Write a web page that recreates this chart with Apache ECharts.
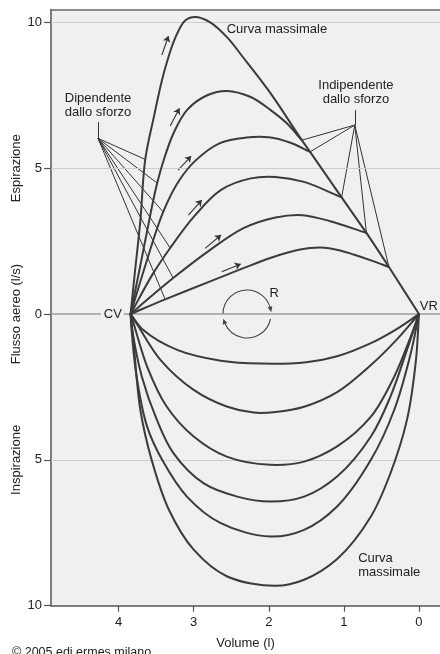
<!DOCTYPE html>
<html>
<head>
<meta charset="utf-8">
<script src="https://cdn.jsdelivr.net/npm/echarts@6/dist/echarts.min.js"></script>
<style>
  html, body { margin: 0; padding: 0; background: #fff; }
  #chart { width: 440px; height: 654px; }
</style>
</head>
<body>
<div id="chart"></div>
<script>
// Flow-volume loops: volume (l) on a reversed x axis, airflow (l/s) on y,
// expiration above zero, inspiration below.
const volumeTicks = [0, 1, 2, 3, 4];
const flowTicks = [-10, -5, 0, 5, 10];

// Expiratory curves [volume, flow], from CV towards VR.
const expMaximal = [[3.84,0],[3.78,1.5],[3.71,3.2],[3.645,5.3],[3.53,6.76],[3.40,8.24],[3.24,9.5],[3.11,10.07],[2.98,10.18],[2.78,10.0],[2.56,9.5],[2.33,8.76],[1.98,7.58],[1.56,5.96],[1.45,5.56],[1.03,4.0],[0.70,2.78],[0.40,1.61],[0,0]];
const expEffort5 = [[3.84,0],[3.70,1.8],[3.57,3.5],[3.486,4.49],[3.40,5.27],[3.27,6.19],[3.09,6.99],[2.82,7.50],[2.56,7.65],[2.24,7.44],[1.98,7.0],[1.76,6.54],[1.56,5.96]];
const expEffort4 = [[3.84,0],[3.64,1.7],[3.406,3.5],[3.2,4.55],[2.98,5.25],[2.65,5.86],[2.3,6.05],[2.0,6.06],[1.72,5.88],[1.45,5.56]];
const expEffort3 = [[3.84,0],[3.55,1.35],[3.313,2.263],[3.0,3.33],[2.64,4.25],[2.24,4.65],[1.91,4.70],[1.53,4.53],[1.03,4.0]];
const expEffort2 = [[3.84,0],[3.55,0.64],[3.273,1.234],[2.78,2.2],[2.33,2.95],[1.91,3.31],[1.55,3.39],[1.18,3.18],[0.70,2.78]];
const expEffort1 = [[3.84,0],[3.38,0.5],[2.78,1.12],[2.33,1.58],[1.98,1.92],[1.6,2.2],[1.31,2.28],[1.05,2.18],[0.87,2.04],[0.62,1.82],[0.40,1.61]];

// Inspiratory curves [volume, flow], from CV towards VR.
const inspEffort1 = [[3.84,0],[3.67,-0.55],[3.22,-1.23],[2.64,-1.6],[2.1,-1.7],[1.5,-1.65],[1.09,-1.45],[0.64,-1.0],[0.33,-0.57],[0.11,-0.2],[0,0]];
const inspEffort2 = [[3.84,0],[3.76,-0.32],[3.44,-1.58],[3.0,-2.60],[2.56,-3.17],[2.2,-3.38],[1.91,-3.36],[1.53,-3.18],[1.09,-2.68],[0.64,-1.75],[0.29,-0.86],[0,0]];
const inspEffort3 = [[3.84,0],[3.80,-0.32],[3.62,-1.80],[3.36,-3.17],[3.0,-4.20],[2.56,-4.89],[1.98,-5.17],[1.53,-5.06],[1.09,-4.54],[0.64,-3.52],[0.33,-2.15],[0.11,-0.78],[0,0]];
const inspEffort4 = [[3.84,0],[3.82,-0.5],[3.69,-2.15],[3.49,-3.63],[3.27,-4.77],[2.87,-5.80],[2.42,-6.26],[1.98,-6.43],[1.53,-6.26],[1.09,-5.57],[0.64,-4.2],[0.38,-2.83],[0.16,-1.23],[0,0]];
const inspEffort5 = [[3.84,0],[3.83,-0.45],[3.76,-2.15],[3.62,-3.86],[3.42,-5.0],[3.09,-6.26],[2.64,-7.17],[1.98,-7.63],[1.53,-7.40],[1.09,-6.6],[0.64,-5.0],[0.33,-3.29],[0.11,-1.35],[0,0]];
const inspMaximal = [[3.84,0],[3.80,-1.0],[3.71,-3.29],[3.56,-5.0],[3.33,-6.71],[3.0,-8.08],[2.56,-8.99],[1.91,-9.32],[1.53,-9.11],[1.09,-8.4],[0.64,-6.94],[0.38,-5.46],[0.16,-3.63],[0.04,-1.57],[0,0]];

// Direction arrows beside the rising limbs of the expiratory curves.
const flowArrows = [
  [[3.423,8.88],[3.336,9.53]],
  [[3.313,6.445],[3.189,7.052]],
  [[3.207,4.937],[3.034,5.417]],
  [[3.070,3.394],[2.892,3.908]],
  [[2.848,2.252],[2.635,2.708]],
  [[2.626,1.450],[2.373,1.714]]
];

// Leader lines: effort-dependent region (rising limbs) and effort-independent region (merge points).
const dependentHub = [4.274, 6.023];
const dependentStub = [4.274, 6.58];
const dependentTargets = [[3.645,5.3],[3.486,4.49],[3.406,3.5],[3.313,2.263],[3.273,1.234],[3.38,0.5]];
const independentHub = [0.855, 6.479];
const independentStub = [0.855, 6.99];
const independentTargets = [[1.56,5.96],[1.45,5.56],[1.03,4.0],[0.70,2.78],[0.40,1.61]];

const curves = [
  expMaximal, expEffort5, expEffort4, expEffort3, expEffort2, expEffort1,
  inspEffort1, inspEffort2, inspEffort3, inspEffort4, inspEffort5, inspMaximal
];

const FONT = "'Liberation Sans', Arial, Helvetica, sans-serif";
const INK = '#3b3b3b';
const TEXT = '#222';

const chart = echarts.init(document.getElementById('chart'), null, { renderer: 'canvas' });

// Centripetal Catmull-Rom through pixel points, emitted as cubic Bezier path data.
function splinePath(pts) {
  const n = pts.length;
  const get = i => {
    if (i < 0) return [2 * pts[0][0] - pts[1][0], 2 * pts[0][1] - pts[1][1]];
    if (i >= n) return [2 * pts[n - 1][0] - pts[n - 2][0], 2 * pts[n - 1][1] - pts[n - 2][1]];
    return pts[i];
  };
  const dist = (a, b) => Math.sqrt(Math.hypot(b[0] - a[0], b[1] - a[1]));
  let d = 'M' + pts[0][0].toFixed(2) + ' ' + pts[0][1].toFixed(2);
  for (let i = 0; i < n - 1; i++) {
    const p0 = get(i - 1), p1 = get(i), p2 = get(i + 1), p3 = get(i + 2);
    const d1 = dist(p0, p1), d2 = dist(p1, p2), d3 = dist(p2, p3);
    let b1 = p1, b2 = p2;
    if (d1 > 1e-6 && d2 > 1e-6) {
      const k = 3 * d1 * (d1 + d2);
      b1 = [0, 1].map(j => (d1 * d1 * p2[j] - d2 * d2 * p0[j] + (2 * d1 * d1 + 3 * d1 * d2 + d2 * d2) * p1[j]) / k);
    }
    if (d3 > 1e-6 && d2 > 1e-6) {
      const k = 3 * d3 * (d3 + d2);
      b2 = [0, 1].map(j => (d3 * d3 * p1[j] - d2 * d2 * p3[j] + (2 * d3 * d3 + 3 * d3 * d2 + d2 * d2) * p2[j]) / k);
    }
    d += 'C' + b1[0].toFixed(2) + ' ' + b1[1].toFixed(2) + ' ' + b2[0].toFixed(2) + ' ' + b2[1].toFixed(2) +
         ' ' + p2[0].toFixed(2) + ' ' + p2[1].toFixed(2);
  }
  return d;
}

function leaderLines(hub, stub, targets) {
  const segs = [{ coords: [stub, hub] }];
  targets.forEach(t => segs.push({ coords: [hub, t] }));
  return segs;
}

chart.setOption({
  animation: false,
  backgroundColor: '#fff',
  grid: {
    left: 51, right: 0, top: 9.5, bottom: 48.3,
    containLabel: false, outerBoundsMode: 'none',
    show: true, backgroundColor: '#f0f0f0', borderWidth: 0
  },
  xAxis: [{
    type: 'value', inverse: true, min: -0.28, max: 4.9,
    axisLine: { show: true, onZero: false, lineStyle: { color: '#555', width: 1.5 } },
    axisTick: { show: true, customValues: volumeTicks, length: 6, lineStyle: { color: '#555', width: 1.2 } },
    axisLabel: { customValues: volumeTicks, margin: 10, color: TEXT, fontSize: 13, fontFamily: FONT },
    splitLine: { show: false },
    name: 'Volume (l)', nameLocation: 'middle', nameGap: 31,
    nameTextStyle: { color: TEXT, fontSize: 13, fontFamily: FONT }
  }, {
    type: 'value', inverse: true, min: -0.28, max: 4.9, position: 'top',
    axisLine: { show: true, onZero: false, lineStyle: { color: '#6a6a6a', width: 1.5 } },
    axisTick: { show: false }, axisLabel: { show: false }, splitLine: { show: false }
  }],
  yAxis: {
    type: 'value', min: -10, max: 10.44,
    axisLine: { show: true, onZero: false, lineStyle: { color: '#555', width: 1.5 } },
    axisTick: { show: true, customValues: flowTicks, length: 7, lineStyle: { color: '#555', width: 1.2 } },
    axisLabel: {
      customValues: flowTicks, margin: 9, color: TEXT, fontSize: 13, fontFamily: FONT,
      formatter: v => String(Math.abs(v))
    },
    splitLine: { show: false }
  },
  series: [
    {
      type: 'line', data: [], z: 1, silent: true,
      markLine: {
        symbol: 'none', silent: true, label: { show: false },
        data: [
          { yAxis: 10, lineStyle: { color: '#cdcdcd', width: 1, type: 'solid' } },
          { yAxis: 5, lineStyle: { color: '#cdcdcd', width: 1, type: 'solid' } },
          { yAxis: -5, lineStyle: { color: '#cdcdcd', width: 1, type: 'solid' } },
          { yAxis: 0, lineStyle: { color: '#9c9c9c', width: 1.5, type: 'solid' } }
        ]
      }
    },
    {
      // one smooth path per flow-volume curve
      type: 'custom', coordinateSystem: 'cartesian2d', z: 5, silent: true, clip: false,
      data: curves.map((c, i) => [c[0][0], c[0][1], i]),
      encode: { x: 0, y: 1 },
      renderItem: (params, api) => {
        const pts = curves[api.value(2)].map(p => api.coord(p));
        return {
          type: 'path',
          shape: { pathData: splinePath(pts) },
          style: { stroke: INK, lineWidth: 2, fill: null, lineJoin: 'round', lineCap: 'round' }
        };
      }
    },
    {
      type: 'lines', coordinateSystem: 'cartesian2d', z: 4, silent: true,
      symbol: 'none',
      lineStyle: { color: '#333', width: 1, opacity: 1 },
      data: leaderLines(dependentHub, dependentStub, dependentTargets)
        .concat(leaderLines(independentHub, independentStub, independentTargets))
    },
    {
      type: 'lines', coordinateSystem: 'cartesian2d', z: 4, silent: true,
      symbol: ['none', 'arrow'], symbolSize: [0, 6],
      lineStyle: { color: '#333', width: 1.1, opacity: 1 },
      data: flowArrows.map(a => ({ coords: a }))
    }
  ]
});

// Text annotations and the rotation symbol, anchored in data space.
const px = p => chart.convertToPixel({ xAxisIndex: 0, yAxisIndex: 0 }, p);
const txt = (p, text, align, extra) => Object.assign({
  type: 'text', x: p[0], y: p[1], z: 20, silent: true,
  style: Object.assign({
    text, fill: TEXT, font: '13px ' + FONT, align, verticalAlign: 'middle', lineHeight: 14
  }, extra || {})
});

const els = [];
els.push(txt(px([2.56, 9.76]), 'Curva massimale', 'left'));
els.push(txt(px([0.84, 7.61]), 'Indipendente\ndallo sforzo', 'center'));
els.push(txt(px([4.274, 7.14]), 'Dipendente\ndallo sforzo', 'center'));
els.push(txt(px([0.81, -8.62]), 'Curva\nmassimale', 'left'));
els.push(txt(px([3.93, 0]), 'CV', 'right', { backgroundColor: '#f0f0f0', padding: [1, 2, 1, 3] }));
els.push(txt(px([-0.01, 0.27]), 'VR', 'left'));
els.push(txt(px([1.99, 0.72]), 'R', 'left'));

// Axis titles on the left
const axisTitle = (yVal, text) => {
  const p = px([0, yVal]);
  return {
    type: 'text', x: 16.7, y: p[1], rotation: Math.PI / 2, z: 20, silent: true,
    style: { text, fill: TEXT, font: '13px ' + FONT, align: 'center', verticalAlign: 'middle' }
  };
};
els.push(axisTitle(5, 'Espirazione'));
els.push(axisTitle(0, 'Flusso aereo (l/s)'));
els.push(axisTitle(-5, 'Inspirazione'));

// Copyright line
els.push({
  type: 'text', x: 12, y: 646, z: 20, silent: true,
  style: { text: '© 2005 edi.ermes milano', fill: TEXT, font: '12.5px ' + FONT, align: 'left', verticalAlign: 'top' }
});

// Rotation symbol "R": two arcs with arrow heads
const c = px([2.29, 0]);
const r = 24;
const arcStyle = { stroke: '#444', lineWidth: 1.1, fill: null };
function arrowHead(theta) {
  const x = c[0] + r * Math.cos(theta), y = c[1] + r * Math.sin(theta);
  const dx = -Math.sin(theta), dy = Math.cos(theta);
  const nx = Math.cos(theta), ny = Math.sin(theta);
  return {
    type: 'polygon', z: 21, silent: true,
    shape: { points: [
      [x + dx * 3.5, y + dy * 3.5],
      [x - dx * 2 + nx * 2.4, y - dy * 2 + ny * 2.4],
      [x - dx * 2 - nx * 2.4, y - dy * 2 - ny * 2.4]
    ] },
    style: { fill: '#444' }
  };
}
const topEnd = 2 * Math.PI - 0.3;
const botEnd = Math.PI - 0.42;
els.push({ type: 'arc', z: 21, silent: true, shape: { cx: c[0], cy: c[1], r, startAngle: Math.PI + 0.02, endAngle: topEnd, clockwise: true }, style: arcStyle });
els.push({ type: 'arc', z: 21, silent: true, shape: { cx: c[0], cy: c[1], r, startAngle: 0.2, endAngle: botEnd, clockwise: true }, style: arcStyle });
els.push(arrowHead(topEnd + 0.08));
els.push(arrowHead(botEnd + 0.08));

chart.setOption({ graphic: { elements: els } });
</script>
</body>
</html>
